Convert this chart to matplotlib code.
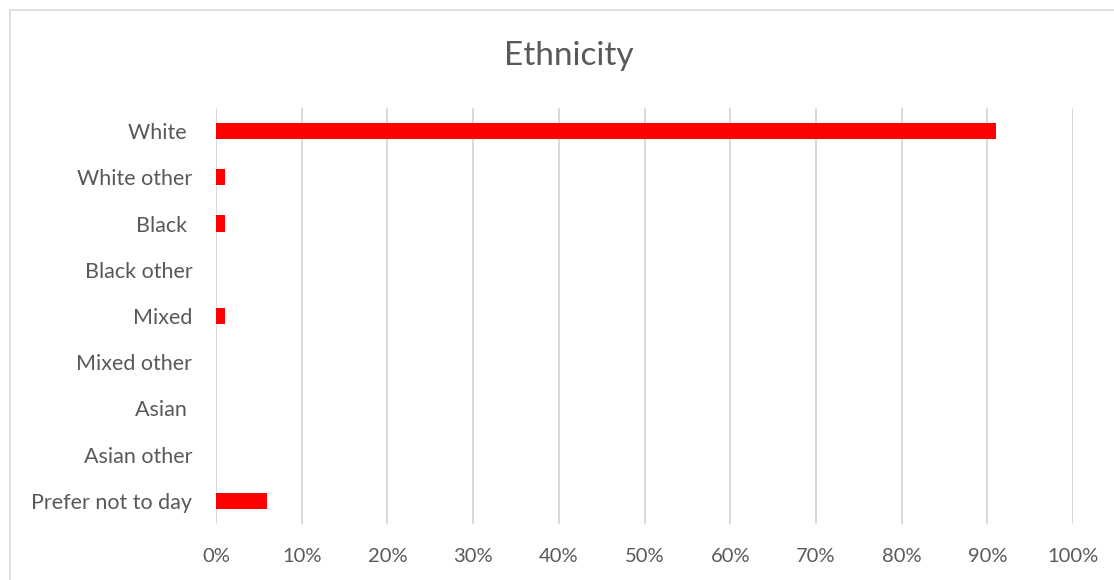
import matplotlib
matplotlib.use("Agg")
import matplotlib.pyplot as plt
from matplotlib.patches import Rectangle
from matplotlib.ticker import FuncFormatter

categories = ["White ", "White other", "Black ", "Black other", "Mixed",
              "Mixed other", "Asian ", "Asian other", "Prefer not to day"]
values = [91, 1, 1, 0, 1, 0, 0, 0, 6]
x_ticks = [0, 10, 20, 30, 40, 50, 60, 70, 80, 90, 100]

TEXT = "#595959"
GRID = "#d9d9d9"
BAR = "#ff0000"

plt.rcParams["font.family"] = ["Lato", "DejaVu Sans"]

fig = plt.figure(figsize=(11.14, 5.8), dpi=100)
fig.patch.set_facecolor("white")

# chart-area frame
fig.patches.append(Rectangle((10 / 1114, -0.1), 1.2, 1 - 10 / 580 + 0.1,
                             transform=fig.transFigure, fill=False,
                             edgecolor=GRID, linewidth=1.2))

ax = fig.add_axes([216 / 1114, 1 - 524 / 580, (1073 - 216) / 1114, (524 - 108) / 580])
y = list(range(len(categories)))
ax.barh(y, values, height=0.35, color=BAR, zorder=3)
ax.set_ylim(len(categories) - 0.5, -0.5)
ax.set_xlim(0, 100)
ax.set_xticks(x_ticks)
ax.xaxis.set_major_formatter(FuncFormatter(lambda v, p: f"{v:.0f}%"))
ax.set_yticks(y)
ax.set_yticklabels(categories)
ax.tick_params(axis="both", length=0, colors=TEXT)
ax.tick_params(axis="y", pad=17, labelsize=15.5)
ax.tick_params(axis="x", pad=17, labelsize=14.5)
ax.grid(axis="x", color=GRID, linewidth=1.4, zorder=0)
for s in ax.spines.values():
    s.set_visible(False)

fig.text(569 / 1114, 1 - 56 / 580, "Ethnicity", ha="center", va="center",
         fontsize=24, color=TEXT)

fig.savefig("out.png", dpi=100)
